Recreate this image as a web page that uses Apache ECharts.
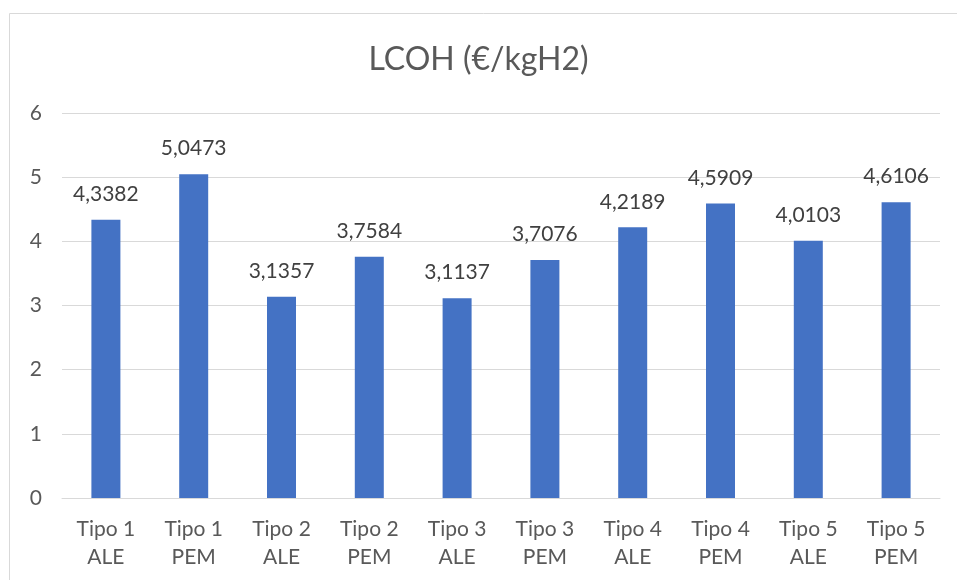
<!DOCTYPE html>
<html><head><meta charset="utf-8">
<script src="https://cdn.jsdelivr.net/npm/echarts@6/dist/echarts.min.js"></script>
<style>html,body{margin:0;padding:0;background:#fff}#c{width:957px;height:580px}</style>
</head><body><div id="c"></div>
<script>
const categories = ['Tipo 1\nALE','Tipo 1\nPEM','Tipo 2\nALE','Tipo 2\nPEM','Tipo 3\nALE','Tipo 3\nPEM','Tipo 4\nALE','Tipo 4\nPEM','Tipo 5\nALE','Tipo 5\nPEM'];
const values = [4.3382, 5.0473, 3.1357, 3.7584, 3.1137, 3.7076, 4.2189, 4.5909, 4.0103, 4.6106];
const chart = echarts.init(document.getElementById('c'));
chart.setOption({
  animation: false,
  textStyle: {fontFamily: 'Lato'},
  title: {text: 'LCOH (€/kgH2)', left: 'center', top: 39, textStyle: {fontFamily: 'Lato', fontSize: 32, fontWeight: 'normal', color: '#595959'}},
  graphic: [{type: 'rect', shape: {x: 9.5, y: 13.5, width: 960, height: 600}, style: {fill: 'none', stroke: '#d9d9d9', lineWidth: 1}, silent: true}],
  grid: {left: 62, right: 17, top: 113, bottom: 82},
  xAxis: {type: 'category', data: categories,
    axisLine: {lineStyle: {color: '#d9d9d9', width: 1}}, axisTick: {show: false},
    axisLabel: {color: '#595959', fontSize: 21, lineHeight: 28, margin: 17, fontFamily: 'Lato', interval: 0}},
  yAxis: {type: 'value', min: 0, max: 6, interval: 1,
    axisLine: {show: false}, axisTick: {show: false},
    splitLine: {lineStyle: {color: '#d9d9d9', width: 1}},
    axisLabel: {color: '#595959', fontSize: 21, margin: 20, fontFamily: 'Lato'}},
  series: [{type: 'bar', data: values, barWidth: 29, itemStyle: {color: '#4472C4'},
    label: {show: true, position: 'top', distance: 15, color: '#404040', fontSize: 21, fontFamily: 'Lato',
      formatter: p => String(p.value).replace('.', ',')}}]
});
</script></body></html>
